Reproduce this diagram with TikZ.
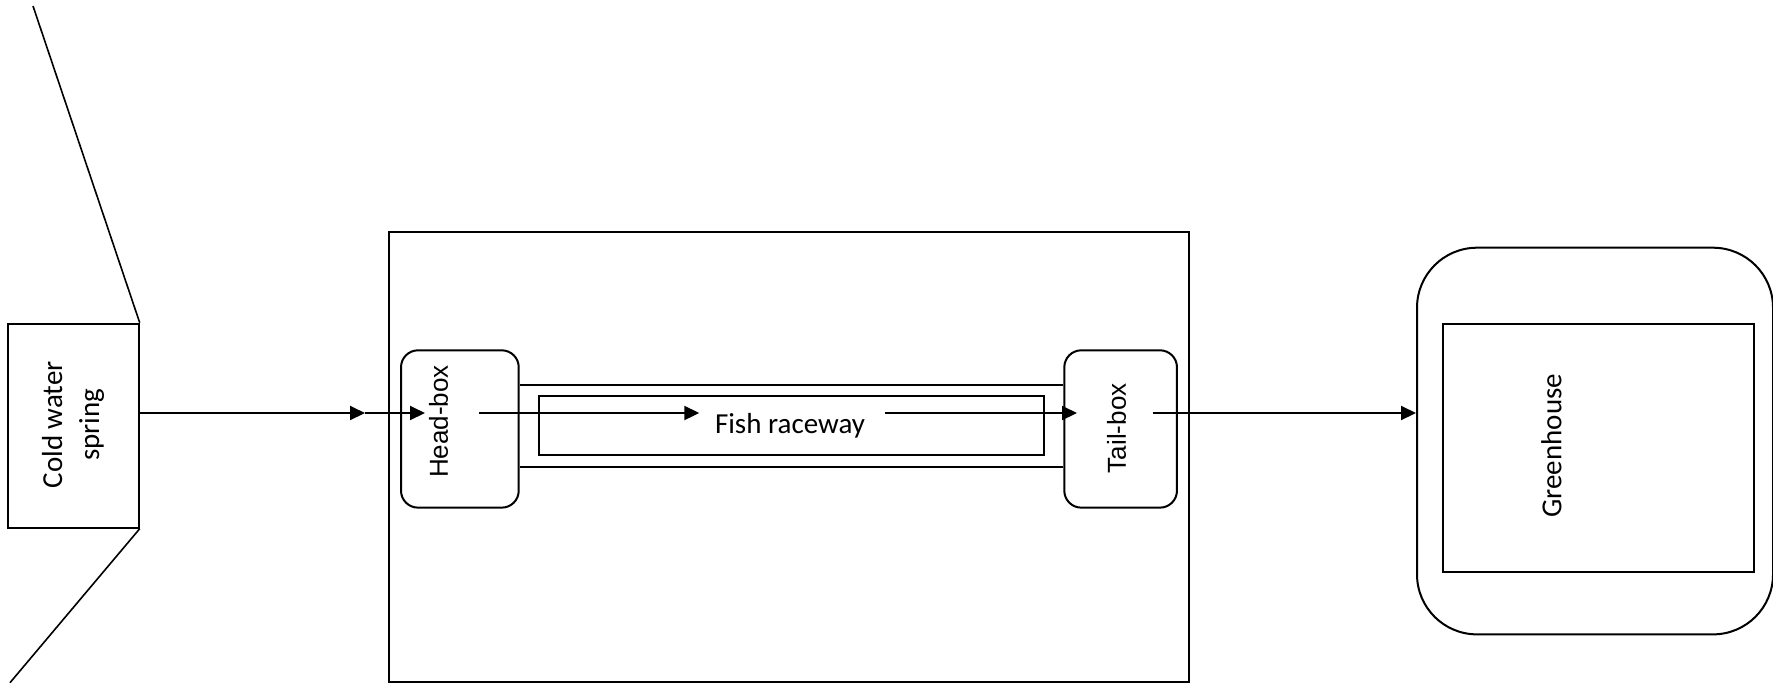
\documentclass[tikz,border=0pt]{standalone}
\usepackage{fontspec}
\newfontfamily\calfont{Carlito}
\newfontfamily\arifont{Liberation Sans}
\usetikzlibrary{arrows.meta}
\begin{document}
\begin{tikzpicture}[x=0.75pt,y=-0.75pt,line width=1.5pt,
  box/.style={draw,rectangle,inner sep=0pt,anchor=north west},
  rbox/.style={draw,rectangle,rounded corners=12.75pt,inner sep=0pt,anchor=north west},
  lbl/.style={inner sep=0pt,font=\calfont\fontsize{21.75}{27.75}\selectfont,align=center},
  albl/.style={inner sep=0pt,font=\arifont\fontsize{19.5}{23}\selectfont},
  arr/.style={-{Triangle[length=11.25pt,width=10.5pt]}}]
\useasboundingbox (0,0) rectangle (1773,683);
% flow line level
\coordinate (flow) at (0,413);
% cold water spring
\node[box,minimum width=97.8pt,minimum height=153pt] (spring) at (7.3,322.7) {};
\node[lbl,rotate=90] (springtxt) at (73,424.7) {Cold water\\spring};
\coordinate (topend) at (33,6);
\coordinate (botend) at (10,682.7);
\draw[line width=1.2pt] (topend) -- (spring.north east);
\draw[line width=1.2pt] (spring.south east) -- (botend);
% big enclosure
\node[box,minimum width=600pt,minimum height=337.3pt] (encl) at (387.7,231) {};
% head-box and tail-box
\node[rbox,minimum width=88.3pt,minimum height=118pt] (head) at (400,349.3) {};
\node[rbox,minimum width=84.5pt,minimum height=118pt] (tail) at (1063.3,349.3) {};
\node[albl,rotate=90] (headtxt) at (438.5,421.5) {Head-box};
\node[albl,rotate=90] (tailtxt) at (1116.5,428.3) {Tail-box};
% raceway channel
\coordinate (rtop) at (0,385);
\coordinate (rbot) at (0,467);
\draw (head.east |- rtop) -- (tail.west |- rtop);
\draw (head.east |- rbot) -- (tail.west |- rbot);
\node[box,minimum width=379.2pt,minimum height=44.6pt] (race) at (537.7,395) {};
\node[lbl,anchor=base] (racetxt) at (790,433) {Fish raceway};
% greenhouse
\node[draw,rectangle,rounded corners=45pt,inner sep=0pt,anchor=north west,minimum width=267pt,minimum height=290pt] (gh) at (1416,246.7) {};
\node[box,minimum width=233.7pt,minimum height=185.5pt] (ghin) at (1441.7,323.3) {};
\node[lbl,rotate=90] (ghtxt) at (1551.5,445.8) {Greenhouse};
% flow arrows
\coordinate (mid) at (365,413);
\coordinate (hbin) at (425,413);
\coordinate (hbout) at (479,413);
\coordinate (frin) at (699.3,413);
\coordinate (frout) at (885,413);
\coordinate (tbin) at (1077,413);
\coordinate (tbout) at (1152.7,413);
\draw[arr] (spring.east |- flow) -- (mid);
\draw[arr] (mid) -- (hbin);
\draw[arr] (hbout) -- (frin);
\draw[arr] (frout) -- (tbin);
\draw[arr] (tbout) -- (gh.west |- flow);
\end{tikzpicture}
\end{document}
